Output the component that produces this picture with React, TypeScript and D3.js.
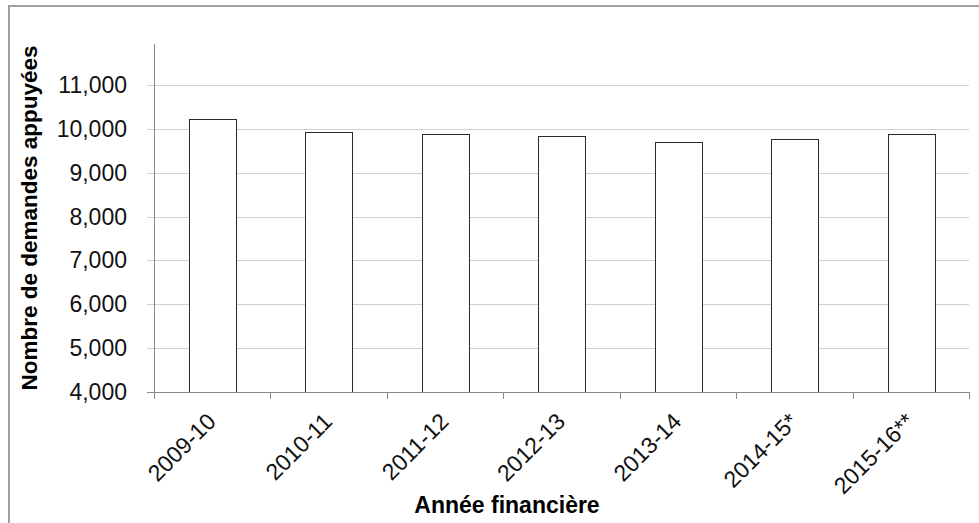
import React from "react";
import * as d3 from "d3";

const categories = ["2009-10", "2010-11", "2011-12", "2012-13", "2013-14", "2014-15*", "2015-16**"];
const values = [10212, 9916, 9870, 9838, 9688, 9756, 9884];
const yTicks = [4000, 5000, 6000, 7000, 8000, 9000, 10000, 11000];
const yTitle = "Nombre de demandes appuyées";
const xTitle = "Année financière";

const W = 979;
const H = 523;
const left = 154;
const right = 969;
const top = 41;
const bottom = 392;
const font = "'Liberation Sans', Arial, sans-serif";

export default function App() {
  const x = d3.scaleBand<string>().domain(categories).range([left, right]).paddingInner(0.6).paddingOuter(0.3);
  const y = d3.scaleLinear().domain([4000, 12000]).range([bottom, top]);
  const step = x.step();
  const fmt = d3.format(",");
  const boundaries = d3.range(categories.length + 1).map((i) => left + i * step);

  return (
    <div style={{ position: "absolute", left: 0, top: 0 }}>
      <svg width={W} height={H} style={{ display: "block", background: "#fff" }}>
        <rect x={9} y={6} width={W + 20} height={H + 20} fill="#fff" stroke="#a0a0a0" strokeWidth={2} />
        {yTicks.map((t) => (
          <line key={"g" + t} x1={left - 7} x2={right} y1={Math.round(y(t)) + 0.5} y2={Math.round(y(t)) + 0.5} stroke="#d0d0d0" strokeWidth={1} />
        ))}
        {categories.map((c, i) => (
          <rect
            key={c}
            x={Math.round(x(c)!) + 0.5}
            y={Math.round(y(values[i])) + 0.5}
            width={Math.round(x.bandwidth())}
            height={Math.round(y(4000)) - Math.round(y(values[i]))}
            fill="#fff"
            stroke="#2a2a2a"
            strokeWidth={1}
          />
        ))}
        <line x1={left + 0.5} x2={left + 0.5} y1={44} y2={bottom + 7} stroke="#8a8a8a" strokeWidth={1} />
        <line x1={left - 7} x2={right + 0.5} y1={bottom + 0.5} y2={bottom + 0.5} stroke="#8a8a8a" strokeWidth={1} />
        {boundaries.map((b, i) => (
          <line key={"t" + i} x1={Math.round(b) + 0.5} x2={Math.round(b) + 0.5} y1={bottom} y2={bottom + 7} stroke="#8a8a8a" strokeWidth={1} />
        ))}
        {yTicks.map((t) => (
          <text key={"l" + t} x={127} y={y(t)} dy="0.35em" textAnchor="end" fontFamily={font} fontSize={23} fill="#111">
            {fmt(t)}
          </text>
        ))}
        {categories.map((c) => (
          <text
            key={"x" + c}
            transform={`translate(${x(c)! + x.bandwidth() / 2 + 5},${bottom + 31}) rotate(-45)`}
            textAnchor="end"
            fontFamily={font}
            fontSize={23}
            fill="#111"
          >
            {c}
          </text>
        ))}
        <text transform={`translate(37,218) rotate(-90)`} textAnchor="middle" fontFamily={font} fontSize={22.5} fontWeight="bold" fill="#000">
          {yTitle}
        </text>
        <text x={507} y={513} textAnchor="middle" fontFamily={font} fontSize={23} fontWeight="bold" fill="#000">
          {xTitle}
        </text>
      </svg>
    </div>
  );
}
